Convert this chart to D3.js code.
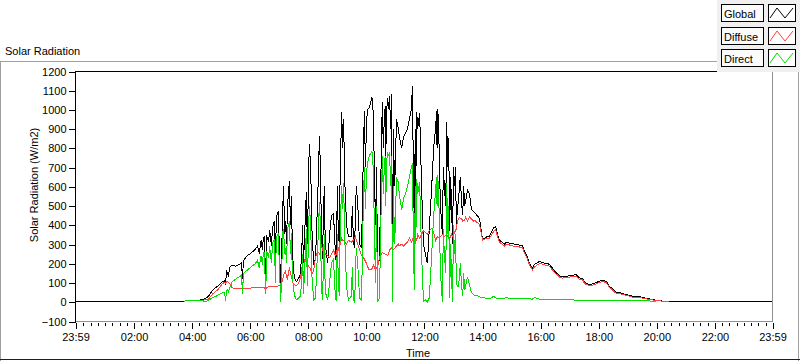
<!DOCTYPE html>
<html><head><meta charset="utf-8">
<script src="https://cdn.jsdelivr.net/npm/d3@7"></script>
<style>
body{margin:0;background:#fff}
svg{display:block}
text{font-family:"Liberation Sans",Arial,sans-serif;font-size:11px;fill:#000}
</style>
</head><body><svg id="c" width="800" height="361"></svg>
<script>
// minutes after midnight
const timeMinutes = [
 -1,225,227,256,262,267,273,277,283,287,
 293,298,304,308,310,312,314,316,318,320,
 324,331,335,339,343,345,347,355,360,364,
 370,372,376,380,382,384,386,388,390,393,
 395,399,401,405,407,409,411,413,415,417,
 419,421,424,426,428,430,432,434,436,438,
 442,444,446,448,450,452,455,457,459,461,
 463,465,468,469,471,475,477,479,483,486,
 488,492,496,498,500,504,506,508,510,512,514,
 516,521,525,529,533,537,539,541,543,545,547,550,
 552,554,556,560,564,570,572,574,576,578,580,583,587,591,
 595,597,599,601,603,607,612,614,616,618,620,622,
 624,628,632,634,636,638,640,641,643,645,647,649,651,653,655,
 657,659,661,663,667,669,674,678,682,686,690,694,
 696,698,700,702,703,705,707,711,713,715,719,723,
 727,731,736,740,744,746,747,748,750,752,754,
 758,760,762,765,767,769,771,773,775,777,779,781,783,785,787,789,
 791,793,795,798,800,802,804,806,810,814,818,822,
 824,831,835,841,845,851,855,864,866,868,
 872,876,886,890,897,907,917,924,928,932,
 938,944,948,959,969,973,979,990,994,1000,
 1006,1010,1021,1031,1035,1041,1048,1052,1062,1072,
 1076,1083,1089,1093,1097,1103,1107,1114,1118,1124,
 1134,1145,1151,1155,1165,1176,1186,1196,1198,1207,
 1217,1227,1439];
const globalValues = [
 0,0,8,8,12,15,25,35,60,68,
 80,90,105,110,90,160,150,130,170,185,
 190,185,190,195,205,120,215,240,248,258,
 268,275,290,250,300,320,270,330,340,120,
 345,310,375,290,390,400,420,200,440,455,
 470,300,95,250,480,600,350,420,300,500,
 630,400,550,300,180,130,110,105,115,125,
 130,150,300,400,200,450,570,300,820,700,
 400,200,220,380,500,860,700,400,220,400,600,
 300,200,350,450,460,250,200,600,350,300,700,985,
 800,950,650,400,340,340,500,330,280,400,600,515,300,280,
 800,990,700,900,1000,1010,1060,1050,900,600,400,700,
 180,220,800,1040,800,950,1020,750,1000,1060,1000,1070,900,1080,200,
 900,600,700,950,900,860,800,860,880,900,950,1000,
 1120,700,400,900,600,985,900,980,800,600,300,250,
 200,380,600,800,900,990,800,1000,950,700,500,
 350,700,600,500,935,700,850,370,650,500,300,700,600,700,400,480,
 520,585,650,500,450,600,500,520,580,560,480,470,
 465,445,430,325,330,340,340,385,385,390,
 350,320,300,310,305,300,295,290,260,245,
 200,175,195,210,200,200,195,160,150,135,
 130,132,135,140,140,125,120,100,90,95,
 100,108,112,110,105,80,72,55,48,48,
 40,33,28,27,27,20,15,10,9,6,
 2,0,0];
const diffuseValues = [
 null,0,5,5,6,10,14,20,40,48,
 60,75,95,100,95,105,105,100,95,90,
 72,68,68,68,70,68,70,70,70,72,
 72,72,72,72,72,75,75,75,75,60,
 75,78,80,80,80,80,80,78,80,80,
 82,85,90,100,110,140,150,160,130,120,
 180,150,130,110,95,90,85,85,90,95,
 110,130,180,150,120,250,220,200,180,170,
 140,160,230,245,260,250,240,300,280,260,255,
 250,240,230,250,270,240,245,280,270,290,300,330,
 320,320,310,300,320,310,315,320,330,340,320,300,270,240,
 230,220,210,200,185,165,170,180,190,175,170,175,
 180,230,250,255,252,250,248,247,245,240,250,270,275,280,270,
 272,275,285,290,300,290,300,290,300,310,330,310,
 320,340,330,325,320,320,350,330,340,350,370,360,
 350,370,380,360,320,330,335,340,335,330,340,
 350,345,340,345,350,340,335,330,340,350,340,350,360,370,380,420,
 430,440,435,430,420,422,425,440,420,440,430,420,
 425,410,400,320,325,330,330,365,370,375,
 340,310,290,300,295,288,285,280,250,235,
 192,165,180,200,192,190,185,152,143,128,
 123,125,128,133,133,118,113,94,84,89,
 93,101,105,103,98,75,67,50,43,43,
 36,29,24,23,23,17,12,8,7,5,
 2,0,null];
const directValues = [
 null,0,5,5,5,0,6,12,20,25,
 32,40,48,50,5,55,60,50,70,80,
 105,118,125,130,140,40,148,165,175,185,
 195,200,215,175,228,240,190,250,260,40,
 265,230,290,200,305,315,325,100,335,345,
 355,200,0,150,360,380,250,280,200,380,
 420,250,360,150,80,40,15,10,15,20,
 25,30,150,250,40,250,380,80,500,400,
 150,10,20,150,250,520,400,100,10,150,350,
 50,10,100,200,220,20,5,350,100,30,400,600,
 480,620,350,80,10,30,180,10,0,80,280,200,20,10,
 550,700,480,650,720,760,780,770,600,300,100,500,
 0,20,550,760,560,700,760,500,740,770,760,780,600,760,0,
 600,300,400,650,620,560,480,540,560,600,650,700,
 720,350,60,600,300,640,560,620,450,250,0,10,
 0,20,250,450,580,650,500,660,600,380,150,
 0,380,250,150,620,350,500,20,300,120,0,400,250,350,100,80,
 80,120,200,70,30,150,60,80,130,90,50,40,
 35,30,25,20,20,18,15,28,25,20,
 18,18,18,22,18,17,16,16,15,15,
 15,14,22,14,13,12,12,11,11,10,
 10,10,10,9,8,8,7,7,7,7,
 6,6,6,6,6,6,6,5,5,5,
 5,5,5,5,5,5,4,4,0,null,
 null,null,null];

const seriesNames = ["Global","Diffuse","Direct"];
const seriesColors = ["#000000","#ff4040","#00e000"];
const yTickValues = [-100,0,100,200,300,400,500,600,700,800,900,1000,1100,1200];
const xTickMinutes = [-1,120,240,360,480,600,720,840,960,1080,1200,1320,1439];
const xTickLabels = ["23:59","02:00","04:00","06:00","08:00","10:00","12:00","14:00","16:00","18:00","20:00","22:00","23:59"];
const chartTitle = "Solar Radiation";
const yAxisTitle = "Solar Radiation (W/m2)";
const xAxisTitle = "Time";

const svg = d3.select("#c");
const L = 75, R = 772, T = 71, B = 321;
const x = d3.scaleLinear().domain([-1, 1439]).range([L, R]);
const y = d3.scaleLinear().domain([-100, 1200]).range([B, T]);

// outer frame
const fr = svg.append("g").attr("shape-rendering","crispEdges");
fr.append("line").attr("x1",0).attr("x2",800).attr("y1",61.5).attr("y2",61.5).attr("stroke","#a0a0a0");
fr.append("line").attr("x1",0.5).attr("x2",0.5).attr("y1",61).attr("y2",361).attr("stroke","#a0a0a0");
fr.append("line").attr("x1",798.5).attr("x2",798.5).attr("y1",61).attr("y2",361).attr("stroke","#a0a0a0");
fr.append("line").attr("x1",0).attr("x2",800).attr("y1",359.5).attr("y2",359.5).attr("stroke","#202020");

svg.append("text").attr("x",5).attr("y",55).text(chartTitle);

// plot area
svg.append("rect").attr("x",L).attr("y",T).attr("width",R-L).attr("height",B-T).attr("fill","#fff");

const series = [globalValues, diffuseValues, directValues];
const line = d3.line()
  .defined(d => d.v !== null && d.v !== undefined)
  .x(d => x(d.t))
  .y(d => y(d.v));
svg.append("clipPath").attr("id","pc").append("rect")
  .attr("x",L).attr("y",T).attr("width",R-L).attr("height",B-T);
const plot = svg.append("g").attr("clip-path","url(#pc)");
series.forEach((vals, i) => {
  const pts = timeMinutes.map((t, j) => ({t: t, v: vals[j]}));
  plot.append("path").datum(pts).attr("d", line)
    .attr("fill","none").attr("stroke", seriesColors[i]).attr("stroke-width",1)
    .attr("shape-rendering","crispEdges");
});

// borders
const bd = svg.append("g").attr("shape-rendering","crispEdges");
bd.append("line").attr("x1",L).attr("x2",R+1).attr("y1",T+0.5).attr("y2",T+0.5).attr("stroke","#000");
bd.append("line").attr("x1",R+0.5).attr("x2",R+0.5).attr("y1",T+1).attr("y2",B+1).attr("stroke","#909090");
bd.append("line").attr("x1",L).attr("x2",R+1).attr("y1",B+0.5).attr("y2",B+0.5).attr("stroke","#909090");
bd.append("line").attr("x1",L+0.5).attr("x2",L+0.5).attr("y1",T).attr("y2",B+1).attr("stroke","#000");

// y axis
const ya = svg.append("g").attr("transform",`translate(${L+0.5},0.5)`)
  .call(d3.axisLeft(y).tickValues(yTickValues).tickSize(7).tickPadding(2).tickFormat(d3.format("d")));
ya.select(".domain").remove();
ya.selectAll("line").attr("stroke","#000").attr("shape-rendering","crispEdges");
ya.selectAll("text").style("font-size","11px").style("font-family","'Liberation Sans',Arial,sans-serif");

// x axis minor + major
const minorTicks = d3.range(0, 1440, 15);
const xm = svg.append("g").attr("transform",`translate(0.5,${B+1.5})`)
  .call(d3.axisBottom(x).tickValues(minorTicks).tickSize(3).tickFormat(""));
xm.select(".domain").remove();
xm.selectAll("line").attr("stroke","#000").attr("shape-rendering","crispEdges");
const xa = svg.append("g").attr("transform",`translate(0.5,${B+1.5})`)
  .call(d3.axisBottom(x).tickValues(xTickMinutes).tickSize(6).tickPadding(5)
    .tickFormat((d, i) => xTickLabels[i]));
xa.select(".domain").remove();
xa.selectAll("line").attr("stroke","#000").attr("shape-rendering","crispEdges");
xa.selectAll("text").style("font-size","11px").style("font-family","'Liberation Sans',Arial,sans-serif");

svg.append("text").attr("transform","translate(38,185) rotate(-90)").attr("text-anchor","middle").text(yAxisTitle);
svg.append("text").attr("x",418).attr("y",357).attr("text-anchor","middle").text(xAxisTitle);

// legend
const lg = svg.append("g").attr("shape-rendering","crispEdges");
lg.append("rect").attr("x",717).attr("y",0).attr("width",83).attr("height",72).attr("fill","#f0f0f0");
seriesNames.forEach((n, i) => {
  const ty = 4 + Math.round(i * 22.5);
  lg.append("rect").attr("x",721.5).attr("y",ty+0.5).attr("width",42).attr("height",17)
    .attr("fill","#fbfbfb").attr("stroke","#000");
  lg.append("text").attr("x",724).attr("y",ty+14).text(n);
  lg.append("rect").attr("x",768.5).attr("y",ty+0.5).attr("width",27).attr("height",17)
    .attr("fill","#fff").attr("stroke","#000");
  lg.append("polyline")
    .attr("points",`${770},${ty+14} ${777},${ty+4} ${785},${ty+14} ${793},${ty+4}`)
    .attr("fill","none").attr("stroke",seriesColors[i]).attr("shape-rendering","auto");
});
</script>
</body></html>
